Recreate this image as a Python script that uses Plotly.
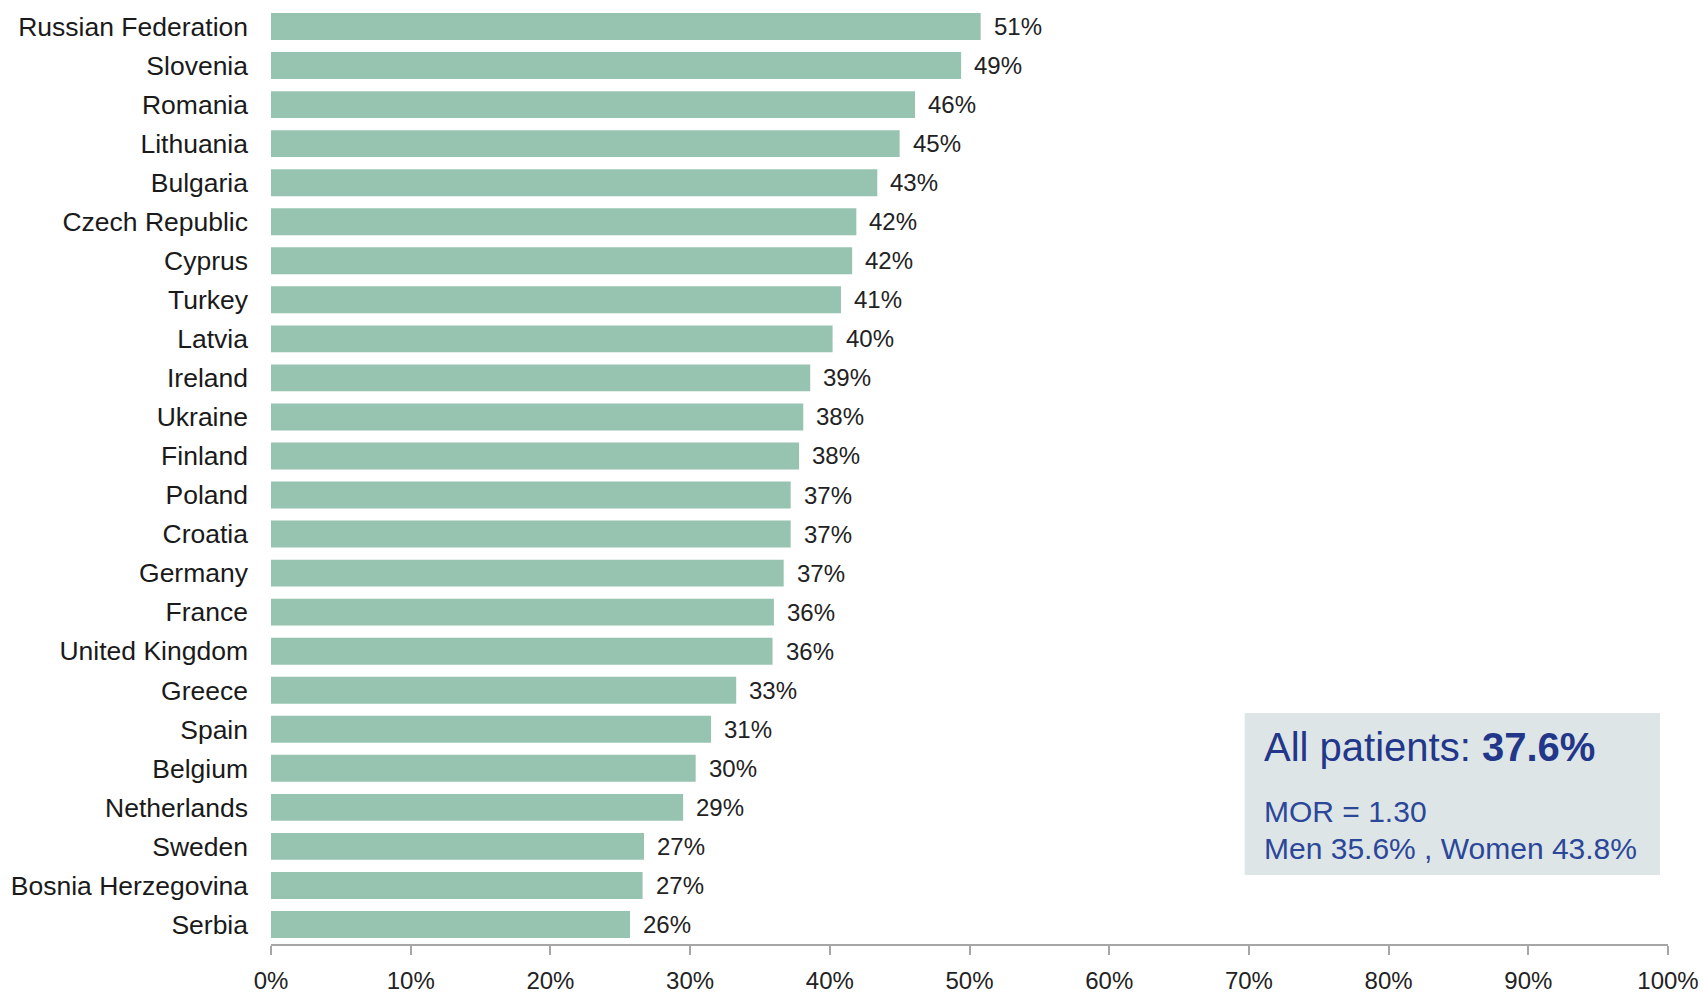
import plotly.graph_objects as go

countries = ["Russian Federation", "Slovenia", "Romania", "Lithuania", "Bulgaria",
             "Czech Republic", "Cyprus", "Turkey", "Latvia", "Ireland", "Ukraine",
             "Finland", "Poland", "Croatia", "Germany", "France", "United Kingdom",
             "Greece", "Spain", "Belgium", "Netherlands", "Sweden",
             "Bosnia Herzegovina", "Serbia"]
values = [50.8, 49.4, 46.1, 45.0, 43.4, 41.9, 41.6, 40.8, 40.2, 38.6, 38.1,
          37.8, 37.2, 37.2, 36.7, 36.0, 35.9, 33.3, 31.5, 30.4, 29.5, 26.7,
          26.6, 25.7]
labels = ["51%", "49%", "46%", "45%", "43%", "42%", "42%", "41%", "40%", "39%",
          "38%", "38%", "37%", "37%", "37%", "36%", "36%", "33%", "31%", "30%",
          "29%", "27%", "27%", "26%"]
tick_vals = [0, 10, 20, 30, 40, 50, 60, 70, 80, 90, 100]
tick_text = ["0%", "10%", "20%", "30%", "40%", "50%", "60%", "70%", "80%", "90%", "100%"]

FONT = "Liberation Sans, Arial, sans-serif"

fig = go.Figure()
fig.add_trace(go.Bar(
    x=values, y=countries, orientation="h",
    marker=dict(color="#97c4b1", line=dict(width=0)),
    hoverinfo="skip",
))

annotations = []
for c, v, t in zip(countries, values, labels):
    annotations.append(dict(
        x=v, y=c, xref="x", yref="y", text=t, showarrow=False,
        xanchor="left", yanchor="middle", xshift=11,
        font=dict(family=FONT, size=24, color="#222222"),
    ))

annotations += [
    dict(x=0.7094, y=0.2102, xref="paper", yref="paper", xanchor="left", yanchor="middle",
         text="All patients: <b>37.6%</b>", showarrow=False,
         font=dict(family=FONT, size=40, color="#22378a")),
    dict(x=0.7094, y=0.1409, xref="paper", yref="paper", xanchor="left", yanchor="middle",
         text="MOR = 1.30", showarrow=False,
         font=dict(family=FONT, size=30, color="#2b4799")),
    dict(x=0.7094, y=0.1024, xref="paper", yref="paper", xanchor="left", yanchor="middle",
         text="Men 35.6% , Women 43.8%", showarrow=False,
         font=dict(family=FONT, size=30, color="#2b4799")),
]

fig.update_layout(
    width=1703, height=993,
    margin=dict(l=271, r=35, t=7, b=49, autoexpand=False),
    paper_bgcolor="white", plot_bgcolor="white",
    bargap=0.31,
    showlegend=False,
    annotations=annotations,
    shapes=[dict(type="rect", xref="paper", yref="paper",
                 x0=0.697, x1=0.9943, y0=0.0736, y1=0.2465,
                 fillcolor="#dee5e6", line=dict(width=0), layer="below")],
    xaxis=dict(range=[0, 100], tickvals=tick_vals, ticktext=tick_text,
               automargin=False,
               showgrid=False, zeroline=False, showline=True,
               linecolor="#a6a6a6", linewidth=2,
               ticks="outside", ticklen=9, tickwidth=1.5, tickcolor="#a6a6a6",
               ticklabelstandoff=5,
               tickfont=dict(family=FONT, size=24, color="#222222")),
    yaxis=dict(categoryorder="array", categoryarray=countries,
               range=[len(countries) - 0.5, -0.5],
               automargin=False,
               showgrid=False, zeroline=False, showline=False, ticks="",
               ticklabelstandoff=22,
               tickfont=dict(family=FONT, size=26.5, color="#1a1a1a")),
)

fig.write_html("out.html")
